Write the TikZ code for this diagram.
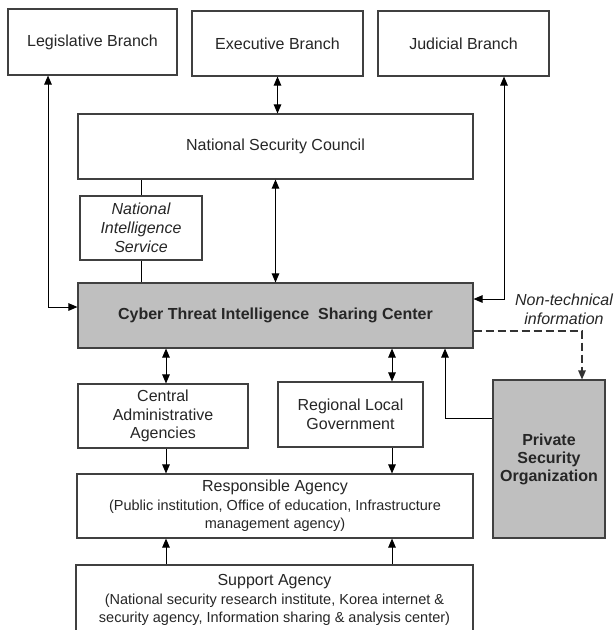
\documentclass[tikz,border=0pt]{standalone}
\usepackage{fontspec}
\setmainfont{Liberation Sans}
\usepackage{tikz}
\usetikzlibrary{arrows.meta,positioning}

\newcommand{\paren}{\fontsize{14.5}{16.5}\selectfont}

\begin{document}
\begin{tikzpicture}[x=1pt,y=-1pt,>={Triangle[length=9pt,width=7.5pt]},line width=1pt,
	box/.style={draw=black!75,line width=1.1pt,fill=white,inner sep=0pt,align=center,text=black!85,font=\fontsize{16}{18.5}\selectfont},
	hub/.style={box,fill=black!25,font=\fontsize{16}{18.5}\selectfont\bfseries}]
		\useasboundingbox (0,0) rectangle (615,630);

		% branches
		\node[box,minimum width=169pt,minimum height=66pt] (leg) at (92.5,42) {Legislative Branch};
		\node[box,minimum width=171pt,minimum height=65pt] (exe) at (277.5,43.5) {Executive Branch};
		\node[box,minimum width=171pt,minimum height=65pt] (jud) at (463.5,43.5) {Judicial Branch};

		\node[box,minimum width=395pt,minimum height=65pt] (nsc) at (275.5,146.5) {National Security Council};
		\node[box,minimum width=122pt,minimum height=64pt,font=\fontsize{16}{19}\selectfont\itshape] (nis) at (141,228) {National\\Intelligence\\Service};
		\node[hub,minimum width=395pt,minimum height=65pt] (cti) at (275.5,315.5) {Cyber Threat Intelligence \ Sharing Center};

		\node[box,minimum width=170pt,minimum height=64pt] (cen) at (163,416) {Central\\Administrative\\Agencies};
		\node[box,minimum width=145pt,minimum height=65pt,font=\fontsize{16}{19}\selectfont] (reg) at (350.5,414.5) {Regional Local\\Government};
		\node[hub,minimum width=112pt,minimum height=158pt,font=\fontsize{16}{18}\selectfont\bfseries] (pso) at (549,459) {Private\\Security\\Organization};

		\node[box,minimum width=396pt,minimum height=64pt] (res) at (275,506) {Responsible Agency\\\paren (Public institution, Office of education, Infrastructure\\\paren management agency)};
		\node[box,minimum width=397pt,minimum height=70pt] (sup) at (274.5,600) {Support Agency\\\paren (National security research institute, Korea internet \&\\\paren security agency, Information sharing \& analysis center)};

		\node[align=center,text=black!85,font=\fontsize{16}{19}\selectfont\itshape] (ntl) at (564,309.5) {Non-technical\\information};

		% vertical lanes
		\coordinate (lane1) at (166,0);
		\coordinate (lane2) at (392,0);
		\coordinate (lane3) at (445,0);
		\coordinate (lane4) at (582,0);

		\draw[<->] ([xshift=-44.5pt]leg.south) |- ([yshift=8.5pt]cti.west);
		\draw[<->] (exe.south) -- (exe.south |- nsc.north);
		\draw[<->] ([xshift=40.5pt]jud.south) |- ([yshift=16.5pt]cti.east);
		\draw[<->] (nsc) -- (cti);
		\draw (nis.north) -- (nis.north |- nsc.south);
		\draw (nis.south) -- (nis.south |- cti.north);

		\draw[<->] (cti.south -| lane1) -- (cen.north -| lane1);
		\draw[<->] (cti.south -| lane2) -- (reg.north -| lane2);
		\draw[->] (cen.south -| lane1) -- (res.north -| lane1);
		\draw[->] (reg.south -| lane2) -- (res.north -| lane2);
		\draw[->] (sup.north -| lane1) -- (res.south -| lane1);
		\draw[->] (sup.north -| lane2) -- (res.south -| lane2);

		\draw[->] ([yshift=41pt]pso.west) -| (cti.south -| lane3);
		\draw[->,black!80,line width=1.2pt,dash pattern=on 8pt off 4pt] ([yshift=-15.5pt]cti.east) -| (pso.north -| lane4);
\end{tikzpicture}
\end{document}
